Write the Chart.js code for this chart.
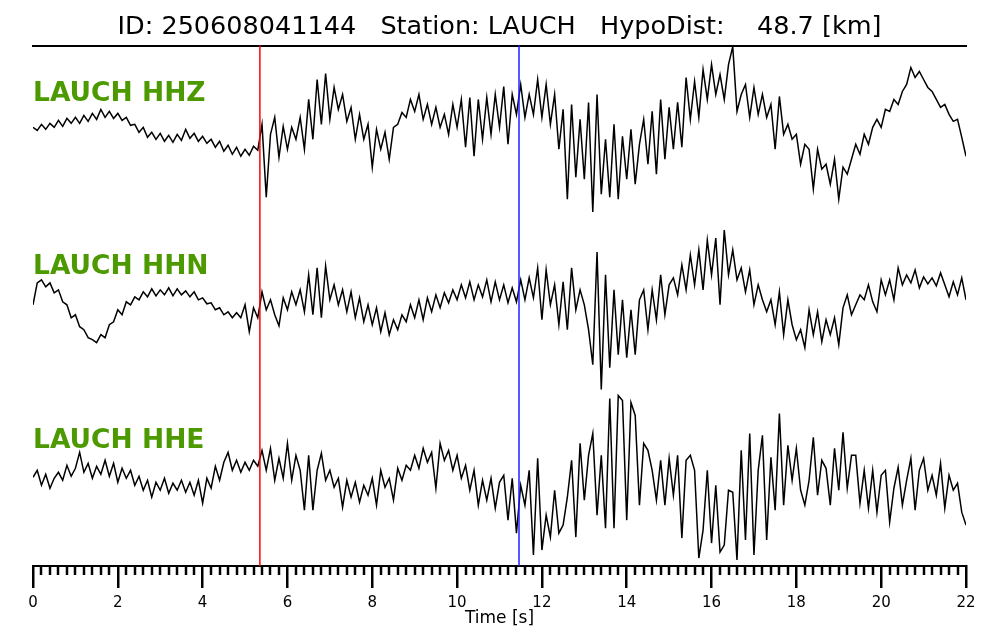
<!DOCTYPE html>
<html>
<head>
<meta charset="utf-8">
<script src="https://cdn.jsdelivr.net/npm/chart.js@4"></script>
<style>
  html, body { margin: 0; padding: 0; background: #fff; }
  canvas { display: block; }
</style>
</head>
<body>
<canvas id="sismo" width="1000" height="640"></canvas>
<script>
// metadata of the event
const eventId = '250608041144';
const station = 'LAUCH';
const hypoDist = 48.7;
const channels = ['LAUCH HHZ', 'LAUCH HHN', 'LAUCH HHE'];
const dt = 0.1;        // seconds between samples
const pPick = 5.35;    // red line
const sPick = 11.46;   // blue line
const tMax = 22;

// traces (relative amplitude, every 0.1 s)
const hhz = [5,2,8,3,9,5,12,6,14,9, 15,9,17,11,19,13,23,15,21,14,
  19,12,15,7,8,0,5,-5,0,-7, -1,-9,-3,-10,-2,-8,3,-6,-1,-9,
  -4,-11,-7,-15,-9,-19,-13,-22,-15,-24, -17,-23,-14,-18,8,-65,-2,15,-25,6,
  -17,5,-7,15,-17,33,-7,53,8,59, 13,45,23,38,11,25,-7,18,-7,8,
  -35,3,-17,0,-27,5,8,20,15,33, 21,38,13,28,8,25,5,18,-2,28,
  5,33,-15,35,-24,33,-7,35,-2,38, 5,46,-12,38,18,48,15,38,18,53,
  15,48,8,38,-17,23,-67,28,-45,13, -47,30,-80,38,-62,-7,-65,8,-67,-4,
  -47,3,-52,-12,13,-32,21,-42,33,-27, 25,-17,30,-15,55,13,51,15,63,33,
  68,38,58,33,68,86,21,38,48,15, 45,18,38,15,28,-17,36,-2,8,-7,
  -2,-32,-12,-17,-57,-17,-37,-32,-52,-27, -67,-35,-42,-27,-12,-22,-2,-12,5,13,
  5,23,21,33,28,41,48,65,55,61, 53,45,41,33,25,28,18,11,13,-5,
  -24];

const hhn = [1,23,26,19,23,13,16,4,1,-12, -9,-21,-24,-32,-34,-37,-29,-32,-19,-16,
  -4,-9,4,1,9,6,14,9,17,10, 16,11,18,10,17,11,15,9,14,6,
  8,2,3,-4,-2,-9,-6,-12,-7,-12, 1,-26,-2,-12,14,-4,6,-9,-20,8,
  -4,14,1,16,-6,31,-9,38,-12,40, 6,21,1,16,-6,14,-12,8,-16,1,
  -19,-2,-26,-7,-29,-14,-24,-9,-16,1, -12,6,-14,8,-6,11,-2,13,3,16,
  6,21,8,24,6,21,9,26,4,24, 6,21,3,18,4,26,6,28,8,38,
  -14,36,1,21,-19,24,-24,38,-4,16, 1,-24,-59,54,-84,31,-62,16,-49,6,
  -52,-4,-49,6,16,-24,16,-14,31,-9, 21,28,11,41,16,51,21,56,16,66,
  31,68,1,76,31,56,26,38,14,36, 1,21,6,-6,6,-19,14,-29,6,-19,
  -34,-24,-42,-4,-29,-6,-36,-14,-29,-12, -39,-2,11,-9,1,11,6,21,4,-6,
  26,11,26,6,38,21,31,23,36,18, 29,22,28,20,33,21,9,24,11,28,
  6];

const hhe = [2,9,-6,5,-9,1,7,-1,14,3, 11,27,7,16,1,13,5,19,3,16,
  -3,11,1,9,-6,3,-11,-1,-18,-3, -11,1,-14,-4,-11,-1,-13,-3,-16,-1,
  -24,1,-9,13,-1,17,27,9,19,7, 17,9,19,13,29,9,31,-1,21,1,
  36,-1,24,9,-31,24,-31,9,26,-1, 9,-8,1,-28,-1,-18,-3,-23,-6,-16,
  1,-26,9,-8,1,-21,11,-1,14,9, 24,11,31,17,27,-9,36,19,29,9,
  24,1,14,-11,9,-26,-1,-21,1,-29, -3,4,-41,1,-54,-6,-26,9,-76,21,
  -71,-36,-58,-11,-54,-46,-18,19,-58,36, -21,24,46,-36,24,-49,81,-49,84,79,
  -41,77,64,-26,36,29,9,-21,19,-26, 21,-16,24,-59,19,24,9,-79,-51,9,
  -64,-6,-73,-66,-11,-13,-81,29,-61,46, -76,9,44,-61,22,-31,66,-26,34,-1,
  31,-11,-26,-1,42,-16,19,11,-26,31, -11,47,-9,24,24,-24,9,-29,9,-33,
  4,9,-43,-9,12,-26,-1,21,-31,9, 21,-11,4,-16,16,-29,4,-11,-4,-33,
  -46];

const titulo = `ID: ${eventId}   Station: ${station}   HypoDist:    ${hypoDist.toFixed(1)} [km]`;

const toPoints = vals => vals.map((v, i) => ({ x: i * dt, y: v }));

const traza = (vals, eje) => ({
  data: toPoints(vals),
  yAxisID: eje,
  borderColor: '#000',
  borderWidth: 1.5,
  pointRadius: 0,
  tension: 0,
  fill: false,
});

// one band per channel, stacked from top to bottom
const ejeY = peso => ({
  type: 'linear',
  position: 'left',
  stack: 'trazas',
  stackWeight: 1,
  weight: peso,
  min: -87,
  max: 87,
  ticks: { display: false },
  grid: { display: false },
  border: { display: false },
  afterFit: s => { s.width = 0; },
});

const extras = {
  id: 'extras',
  afterDatasetsDraw(chart) {
    const { ctx, chartArea, scales } = chart;
    const x = scales.x;
    ctx.save();
    // picks
    [[pPick, '#ff0000'], [sPick, '#2020ff']].forEach(([t, c]) => {
      const px = x.getPixelForValue(t);
      ctx.strokeStyle = c;
      ctx.lineWidth = 1.5;
      ctx.beginPath();
      ctx.moveTo(px, chartArea.top);
      ctx.lineTo(px, chartArea.bottom);
      ctx.stroke();
    });
    // channel names
    ctx.fillStyle = '#4c9a00';
    ctx.font = 'bold 26.5px "DejaVu Sans"';
    ctx.textBaseline = 'alphabetic';
    ['yZ', 'yN', 'yE'].forEach((id, i) => {
      ctx.fillText(channels[i], chartArea.left, scales[id].top + 55);
    });
    ctx.restore();
  },
  afterDraw(chart) {
    // minor ticks every 0.2 s
    const { ctx, chartArea, scales } = chart;
    const x = scales.x;
    ctx.save();
    ctx.strokeStyle = '#000';
    ctx.lineWidth = 2.5;
    for (let k = 0; k <= tMax * 5; k++) {
      if (k % 10 === 0) continue;
      const px = Math.round(x.getPixelForValue(k * 0.2));
      ctx.beginPath();
      ctx.moveTo(px, chartArea.bottom);
      ctx.lineTo(px, chartArea.bottom + 9);
      ctx.stroke();
    }
    ctx.restore();
  }
};

new Chart(document.getElementById('sismo'), {
  type: 'line',
  data: {
    datasets: [traza(hhz, 'yZ'), traza(hhn, 'yN'), traza(hhe, 'yE')],
  },
  options: {
    responsive: false,
    animation: false,
    events: [],
    layout: { padding: { left: 33, right: 34, top: 0, bottom: 0 } },
    scales: {
      x: {
        type: 'linear',
        position: 'bottom',
        min: 0,
        max: tMax,
        ticks: {
          stepSize: 2,
          color: '#000',
          padding: 6,
          maxRotation: 0,
          font: { family: 'DejaVu Sans', size: 15 },
        },
        grid: {
          display: true,
          drawOnChartArea: false,
          drawTicks: true,
          tickLength: 22,
          lineWidth: 2.5,
          color: '#000',
        },
        border: { display: true, width: 2, color: '#000' },
        title: {
          display: true,
          text: 'Time [s]',
          color: '#000',
          padding: { top: 0, bottom: 11 },
          font: { family: 'DejaVu Sans', size: 17 },
        },
        afterFit: s => { s.height = 74; },
      },
      xTop: {
        type: 'linear',
        position: 'top',
        min: 0,
        max: tMax,
        ticks: { display: false },
        grid: { display: false },
        border: { display: true, width: 2, color: '#000' },
        afterFit: s => { s.height = 0; },
      },
      yZ: ejeY(3),
      yN: ejeY(2),
      yE: ejeY(1),
    },
    plugins: {
      legend: { display: false },
      tooltip: { enabled: false },
      title: {
        display: true,
        text: titulo,
        color: '#000',
        font: { family: 'DejaVu Sans', size: 25.5, weight: 'normal' },
        padding: { top: 12, bottom: 3 },
      },
    },
  },
  plugins: [extras],
});
</script>
</body>
</html>
